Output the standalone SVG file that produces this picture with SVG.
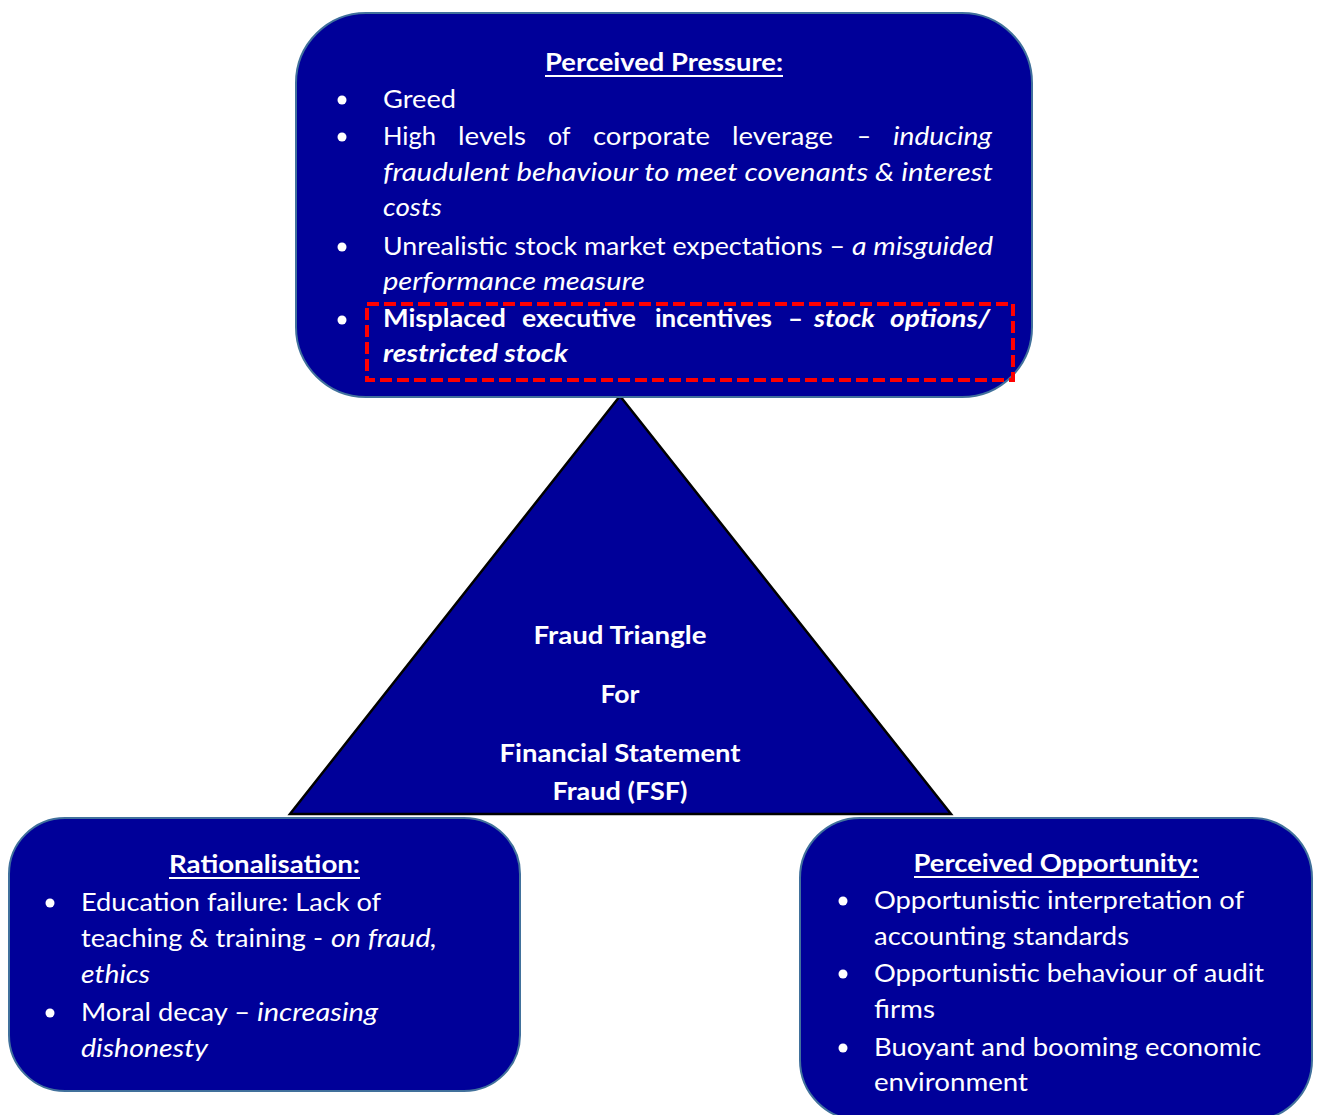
<svg xmlns="http://www.w3.org/2000/svg" width="1318" height="1115" viewBox="0 0 1318 1115">
  <style>
    .box { fill: #000099; stroke: #41719C; stroke-width: 2; }
    .tri { fill: #000099; stroke: #000000; stroke-width: 2.5; stroke-linejoin: miter; }
    .hl { fill: none; stroke: #FF0000; stroke-width: 4; stroke-dasharray: 12 5; }
    .t { font-family: Lato, "Noto Sans", "Liberation Sans", sans-serif; font-size: 25px; fill: #FFFFFF; }
    .b { font-weight: bold; }
    .i { font-style: italic; }
    .c { text-anchor: middle; }
    .ul { stroke: #FFFFFF; stroke-width: 2; }
    .dot { fill: #FFFFFF; }
  </style>

  <rect width="1318" height="1115" fill="#FFFFFF"/>

  <!-- central fraud triangle -->
  <g id="triangle">
    <polygon class="tri" points="620,396 290,814 951,814"/>
    <text class="t b c" x="620" y="644" textLength="173" lengthAdjust="spacingAndGlyphs">Fraud Triangle</text>
    <text class="t b c" x="620" y="703" textLength="39" lengthAdjust="spacingAndGlyphs">For</text>
    <text class="t b c" x="620" y="762" textLength="241" lengthAdjust="spacingAndGlyphs">Financial Statement</text>
    <text class="t b c" x="620" y="800" textLength="135" lengthAdjust="spacingAndGlyphs">Fraud (FSF)</text>
  </g>

  <!-- top corner: pressure -->
  <g id="pressure">
    <rect class="box" x="296" y="13" width="736" height="384" rx="70" ry="70"/>
    <text class="t b c" x="664" y="71" textLength="238" lengthAdjust="spacingAndGlyphs">Perceived Pressure:</text>
    <line class="ul" x1="545" y1="76" x2="783" y2="76"/>

    <circle class="dot" cx="342" cy="100" r="4.5"/>
    <text class="t" x="383" y="108" textLength="73" lengthAdjust="spacingAndGlyphs">Greed</text>

    <circle class="dot" cx="342" cy="137" r="4.5"/>
    <text class="t" y="145">
      <tspan x="383" textLength="53" lengthAdjust="spacingAndGlyphs">High</tspan>
      <tspan x="458" textLength="68" lengthAdjust="spacingAndGlyphs">levels</tspan>
      <tspan x="548" textLength="22" lengthAdjust="spacingAndGlyphs">of</tspan>
      <tspan x="593" textLength="117" lengthAdjust="spacingAndGlyphs">corporate</tspan>
      <tspan x="732" textLength="101" lengthAdjust="spacingAndGlyphs">leverage</tspan>
      <tspan x="857" textLength="14" lengthAdjust="spacingAndGlyphs">–</tspan>
      <tspan class="i" x="893" textLength="99" lengthAdjust="spacingAndGlyphs">inducing</tspan>
    </text>
    <text class="t i" x="383" y="181" textLength="610" lengthAdjust="spacingAndGlyphs">fraudulent behaviour to meet covenants &amp; interest</text>
    <text class="t i" x="383" y="216" textLength="59" lengthAdjust="spacingAndGlyphs">costs</text>

    <circle class="dot" cx="342" cy="247" r="4.5"/>
    <text class="t" x="383" y="255" textLength="462" lengthAdjust="spacingAndGlyphs">Unrealistic stock market expectations –</text>
    <text class="t i" x="852" y="255" textLength="141" lengthAdjust="spacingAndGlyphs">a misguided</text>
    <text class="t i" x="383" y="290" textLength="262" lengthAdjust="spacingAndGlyphs">performance measure</text>

    <circle class="dot" cx="342" cy="320" r="4.5"/>
    <text class="t b" y="327">
      <tspan x="383" textLength="123" lengthAdjust="spacingAndGlyphs">Misplaced</tspan>
      <tspan x="522" textLength="114" lengthAdjust="spacingAndGlyphs">executive</tspan>
      <tspan x="655" textLength="117" lengthAdjust="spacingAndGlyphs">incentives</tspan>
      <tspan x="788" textLength="15" lengthAdjust="spacingAndGlyphs">–</tspan>
      <tspan class="i" x="814" textLength="61" lengthAdjust="spacingAndGlyphs">stock</tspan>
      <tspan class="i" x="890" textLength="100" lengthAdjust="spacingAndGlyphs">options/</tspan>
    </text>
    <text class="t b i" x="383" y="362" textLength="185" lengthAdjust="spacingAndGlyphs">restricted stock</text>

    <rect class="hl" x="367" y="304" width="646" height="76"/>
  </g>

  <!-- bottom left corner: rationalisation -->
  <g id="rationalisation">
    <rect class="box" x="9" y="818" width="511" height="273" rx="56" ry="56"/>
    <text class="t b c" x="264.5" y="873" textLength="191" lengthAdjust="spacingAndGlyphs">Rationalisation:</text>
    <line class="ul" x1="169" y1="878" x2="360" y2="878"/>

    <circle class="dot" cx="50" cy="903" r="4.5"/>
    <text class="t" x="81" y="911" textLength="300" lengthAdjust="spacingAndGlyphs">Education failure: Lack of</text>
    <text class="t" x="81" y="947" textLength="242" lengthAdjust="spacingAndGlyphs">teaching &amp; training -</text>
    <text class="t i" x="331" y="947" textLength="106" lengthAdjust="spacingAndGlyphs">on fraud,</text>
    <text class="t i" x="81" y="983" textLength="69" lengthAdjust="spacingAndGlyphs">ethics</text>

    <circle class="dot" cx="50" cy="1013" r="4.5"/>
    <text class="t" x="81" y="1021" textLength="169" lengthAdjust="spacingAndGlyphs">Moral decay –</text>
    <text class="t i" x="257" y="1021" textLength="121" lengthAdjust="spacingAndGlyphs">increasing</text>
    <text class="t i" x="81" y="1057" textLength="127" lengthAdjust="spacingAndGlyphs">dishonesty</text>
  </g>

  <!-- bottom right corner: opportunity -->
  <g id="opportunity">
    <rect class="box" x="800" y="818" width="512" height="302" rx="60" ry="60"/>
    <text class="t b c" x="1056" y="872" textLength="285" lengthAdjust="spacingAndGlyphs">Perceived Opportunity:</text>
    <line class="ul" x1="914" y1="877" x2="1199" y2="877"/>

    <circle class="dot" cx="843" cy="901" r="4.5"/>
    <text class="t" x="874" y="909" textLength="370" lengthAdjust="spacingAndGlyphs">Opportunistic interpretation of</text>
    <text class="t" x="874" y="945" textLength="255" lengthAdjust="spacingAndGlyphs">accounting standards</text>

    <circle class="dot" cx="843" cy="974" r="4.5"/>
    <text class="t" x="874" y="982" textLength="390" lengthAdjust="spacingAndGlyphs">Opportunistic behaviour of audit</text>
    <text class="t" x="874" y="1018" textLength="61" lengthAdjust="spacingAndGlyphs">firms</text>

    <circle class="dot" cx="843" cy="1048" r="4.5"/>
    <text class="t" x="874" y="1056" textLength="387" lengthAdjust="spacingAndGlyphs">Buoyant and booming economic</text>
    <text class="t" x="874" y="1091" textLength="154" lengthAdjust="spacingAndGlyphs">environment</text>
  </g>

  <!-- the figure has no arrows; connectors group kept empty -->
  <g id="connectors"/>
</svg>
